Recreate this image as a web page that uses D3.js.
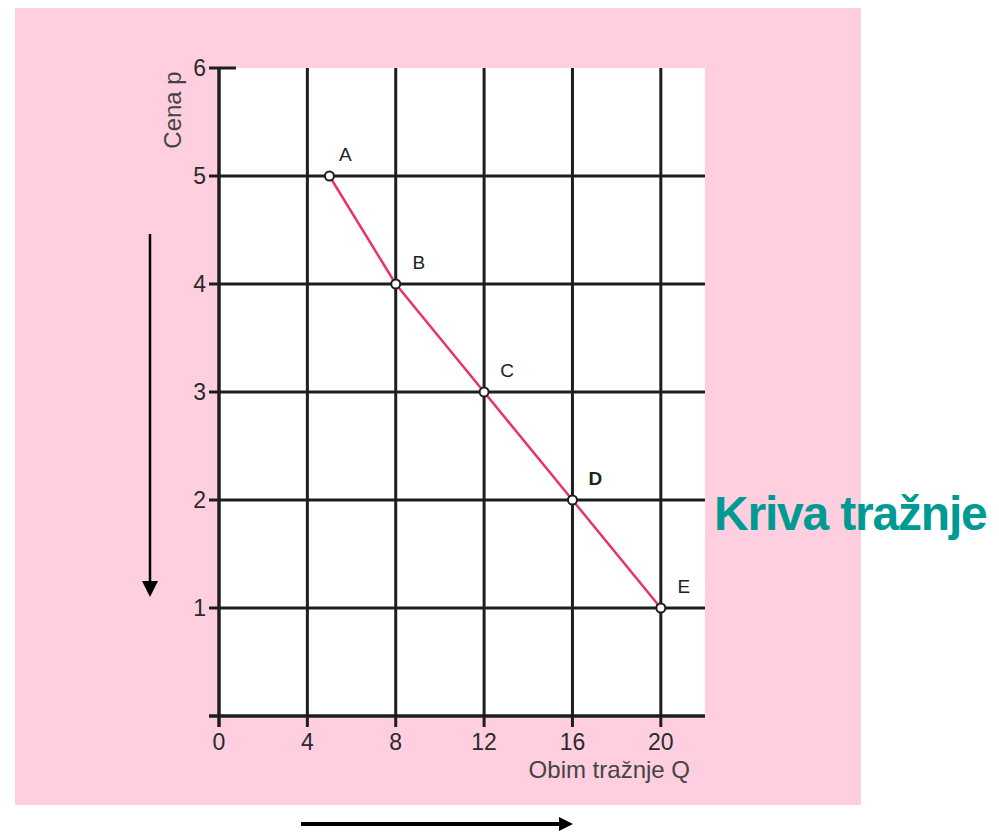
<!DOCTYPE html>
<html><head><meta charset="utf-8">
<script src="https://cdn.jsdelivr.net/npm/d3@7"></script>
<style>html,body{margin:0;padding:0;background:#fff;}</style>
</head><body>
<svg id="c" width="999" height="833"></svg>
<script>
const xTicks = [0, 4, 8, 12, 16, 20];
const yTicks = [1, 2, 3, 4, 5, 6];
const pointLabels = ["A", "B", "C", "D", "E"];
const quantity = [5, 8, 12, 16, 20];
const price = [5, 4, 3, 2, 1];
const xTitle = "Obim tražnje Q";
const yTitle = "Cena p";
const curveTitle = "Kriva tražnje";

const svg = d3.select("#c");
const font = "'Liberation Sans Narrow', 'Liberation Sans', Arial, sans-serif";
const fontW = "'Liberation Sans', Arial, sans-serif";
svg.append("rect").attr("x", 15).attr("y", 8).attr("width", 846).attr("height", 797).attr("fill", "#ffcfdf");

const x = d3.scaleLinear().domain([0, 22]).range([219, 705]);
const y = d3.scaleLinear().domain([0, 6]).range([716, 68]);

svg.append("rect").attr("x", x(0)).attr("y", y(6)).attr("width", x(22) - x(0)).attr("height", y(0) - y(6)).attr("fill", "#fff");

const ink = "#1e1e1e";
svg.selectAll(".vg").data(xTicks.filter(d => d > 0)).enter().append("line")
  .attr("x1", d => x(d)).attr("x2", d => x(d)).attr("y1", y(6)).attr("y2", y(0) + 11)
  .attr("stroke", ink).attr("stroke-width", 3);
svg.selectAll(".hg").data(yTicks.filter(d => d < 6)).enter().append("line")
  .attr("x1", x(0) - 10).attr("x2", x(22)).attr("y1", d => y(d)).attr("y2", d => y(d))
  .attr("stroke", ink).attr("stroke-width", 3);
svg.append("line").attr("x1", x(0) - 10).attr("x2", x(0) + 17).attr("y1", y(6)).attr("y2", y(6)).attr("stroke", ink).attr("stroke-width", 3);
svg.append("line").attr("x1", x(0)).attr("x2", x(0)).attr("y1", y(6)).attr("y2", y(0) + 11).attr("stroke", ink).attr("stroke-width", 3.5);
svg.append("line").attr("x1", x(0) - 10).attr("x2", x(22)).attr("y1", y(0)).attr("y2", y(0)).attr("stroke", ink).attr("stroke-width", 3.5);

svg.selectAll(".xl").data(xTicks).enter().append("text")
  .attr("x", d => x(d)).attr("y", y(0) + 34).attr("text-anchor", "middle")
  .attr("font-family", font).attr("font-size", 23).attr("fill", "#2a2a2a").text(d => d);
svg.selectAll(".yl").data(yTicks).enter().append("text")
  .attr("x", x(0) - 13).attr("y", d => y(d) + 8).attr("text-anchor", "end")
  .attr("font-family", font).attr("font-size", 23).attr("fill", "#2a2a2a").text(d => d);

svg.append("text").attr("x", 690).attr("y", 778).attr("text-anchor", "end")
  .attr("font-family", font).attr("font-size", 24).attr("fill", "#444").text(xTitle);
svg.append("text").attr("transform", "translate(181,110) rotate(-90)").attr("text-anchor", "middle")
  .attr("font-family", font).attr("font-size", 24).attr("fill", "#444").text(yTitle);

const pts = quantity.map((q, i) => ({ q, p: price[i], l: pointLabels[i] }));
svg.append("path").datum(pts)
  .attr("d", d3.line().x(d => x(d.q)).y(d => y(d.p)))
  .attr("fill", "none").attr("stroke", "#e8336b").attr("stroke-width", 2.5);
svg.selectAll(".pt").data(pts).enter().append("circle")
  .attr("cx", d => x(d.q)).attr("cy", d => y(d.p)).attr("r", 4.5)
  .attr("fill", "#fff").attr("stroke", ink).attr("stroke-width", 2);
svg.selectAll(".pl").data(pts).enter().append("text")
  .attr("x", (d, i) => x(d.q) + (i === 0 ? 16 : 23)).attr("y", d => y(d.p) - 15).attr("text-anchor", "middle")
  .attr("font-family", fontW).attr("font-size", 19).attr("fill", "#222")
  .attr("font-weight", d => d.l === "D" ? "bold" : "normal").text(d => d.l);

svg.append("text").attr("x", 714).attr("y", 530)
  .attr("font-family", fontW).attr("font-size", 48).attr("font-weight", "bold").attr("fill", "#009a94")
  .attr("letter-spacing", -1.2).text(curveTitle);

const defs = svg.append("defs");
defs.append("marker").attr("id", "ah").attr("viewBox", "0 0 10 10").attr("refX", 0).attr("refY", 5)
  .attr("markerWidth", 14).attr("markerHeight", 14).attr("markerUnits", "userSpaceOnUse").attr("orient", "auto")
  .append("path").attr("d", "M0,0L10,5L0,10Z").attr("fill", "#000");
defs.append("marker").attr("id", "ah2").attr("viewBox", "0 0 10 10").attr("refX", 0).attr("refY", 5)
  .attr("markerWidth", 16).attr("markerHeight", 16).attr("markerUnits", "userSpaceOnUse").attr("orient", "auto")
  .append("path").attr("d", "M0,0L10,5L0,10Z").attr("fill", "#000");
svg.append("line").attr("x1", 150).attr("x2", 150).attr("y1", 234).attr("y2", 581)
  .attr("stroke", "#000").attr("stroke-width", 2.5).attr("marker-end", "url(#ah2)");
svg.append("line").attr("x1", 301).attr("x2", 559).attr("y1", 824).attr("y2", 824)
  .attr("stroke", "#000").attr("stroke-width", 4).attr("marker-end", "url(#ah)");
</script>
</body></html>
